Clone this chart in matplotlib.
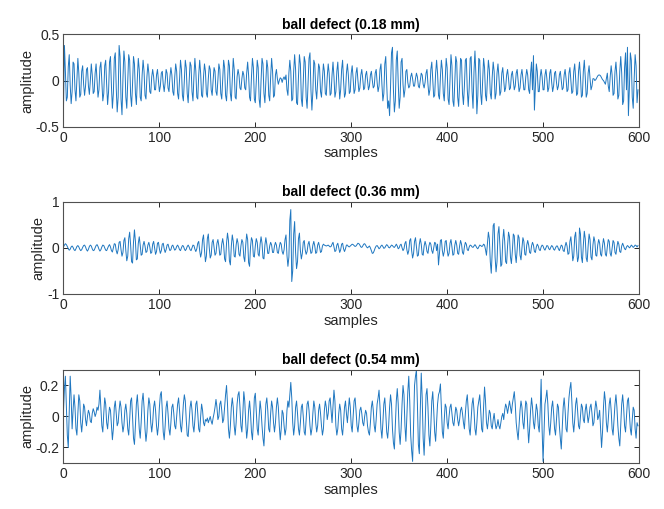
import numpy as np
import matplotlib
matplotlib.use("Agg")
import matplotlib.pyplot as plt

plt.rcParams['font.family'] = ['Liberation Sans', 'DejaVu Sans']
plt.rcParams['axes.unicode_minus'] = False

# signal values (x100)
s1 = [
    -30, 38, 10, -22, -18, 15, 28, -5, -25, -12, 20, 18, -10, -22, 2, 24, 8, -18, -15, 10,
    16, -4, -16, -6, 12, 14, -6, -15, 0, 18, 6, -14, -12, 8, 18, 0, -18, -10, 14, 20,
    -2, -22, -14, 16, 22, -4, -26, -12, 20, 26, -6, -30, -14, 24, 30, -8, -34, -18, 38, 26,
    -20, -37, 2, 32, 20, -18, -30, 0, 28, 22, -16, -28, -4, 26, 18, -14, -26, 2, 24, 12,
    -18, -22, 6, 22, 10, -16, -20, 4, 18, 8, -12, -14, 4, 12, 4, -10, -10, 6, 12, 0,
    -12, -6, 8, 10, -4, -12, -2, 12, 8, -8, -12, 4, 14, 6, -12, -16, 4, 18, 10, -14,
    -20, 2, 22, 12, -16, -22, 0, 22, 14, -14, -24, -2, 20, 16, -12, -22, 4, 24, 10, -18,
    -20, 6, 22, 8, -16, -18, 4, 18, 10, -14, -18, 2, 16, 12, -10, -16, 0, 14, 10, -12,
    -16, 2, 18, 12, -14, -20, 0, 22, 14, -16, -22, -2, 22, 16, -14, -22, 2, 24, 12, -18,
    -20, 4, 12, 6, -8, -10, 2, 10, 6, -8, -10, 8, 20, 6, -18, -22, 4, 24, 14, -20,
    -24, -2, 22, 14, -20, -29, 0, 24, 18, -14, -24, 0, 22, 14, -16, -22, 4, 24, 10, -18,
    -16, 6, 12, 2, -4, 0, 3, 2, -2, 2, 4, 1, 6, -10, -16, 8, 22, 10, -22, -20,
    10, 28, 12, -24, -26, 4, 28, 18, -20, -28, 0, 26, 20, -18, -30, -4, 24, 30, -10, -32,
    -12, 22, 18, -10, -20, 0, 18, 14, -12, -18, 2, 18, 10, -14, -16, 4, 18, 8, -16, -14,
    6, 20, 4, -18, -12, 10, 20, 0, -20, -10, 12, 22, 0, -18, -14, 8, 18, 6, -14, -12,
    8, 16, 2, -14, -10, 8, 14, 0, -12, -8, 6, 12, 2, -10, -8, 6, 10, 0, -10, -6,
    6, 10, 0, -8, -6, 8, 12, -2, -12, -6, 12, 18, -4, -22, -14, 18, 26, -4, -30, -22,
    -38, -6, 30, 36, -10, -34, -22, 22, 32, -2, -30, -18, 20, 24, -4, -18, -10, 10, 12, -2,
    -8, -6, 4, 8, 2, -6, -6, 2, 8, 4, -6, -8, 0, 8, 6, -4, -8, -2, 8, 12,
    -4, -16, -10, 12, 20, 2, -18, -16, 8, 22, 8, -16, -20, 4, 22, 12, -14, -22, 0, 24,
    14, -20, -26, 2, 28, 16, -22, -28, 0, 26, 20, -18, -28, -4, 24, 22, -14, -26, -6, 22,
    24, -10, -28, -8, 24, 26, -12, -30, 10, 32, 6, -36, -16, 24, 22, -14, -26, 0, 24, 14,
    -16, -22, 2, 22, 12, -14, -20, 4, 20, 10, -20, -14, 8, 18, 4, -16, -12, 8, 14, 0,
    -12, -8, 6, 12, 2, -10, -8, 6, 10, 0, -10, -6, 8, 12, 0, -12, -8, 6, 12, 2,
    -10, -10, 4, 12, 6, -10, -14, 8, 20, -10, 27, -32, -6, 18, 10, -12, -12, 4, 12, 4,
    -10, -10, 6, 12, 2, -12, -8, 8, 12, -2, -12, -6, 8, 10, -2, -10, -6, 6, 10, 0,
    -10, -8, 6, 12, 2, -12, -10, 8, 14, 0, -14, -12, 10, 18, 2, -16, -14, 10, 20, 4,
    -18, -16, 10, 22, 4, -18, -14, 8, 16, 2, -10, -6, 2, 2, 0, 1, 3, 5, 6, 6,
    5, 3, 1, 0, -2, -4, 2, 8, -6, -12, 4, 16, 6, -16, -14, 10, 20, 4, -20, -16,
    10, 26, 8, -26, -22, 14, 30, -10, 36, -38, -8, 30, 22, -18, -30, 2, 28, 16, -24, -10,
]

s2 = [
    2, 6, 9, 7, 3, -2, -5, -3, 2, 4, 1, -4, -6, -2, 3, 5, 2, -3, -6, -4,
    1, 5, 6, 2, -4, -7, -3, 3, 6, 4, -2, -6, -5, 0, 5, 7, 3, -3, -7, -4,
    2, 6, 5, 0, -5, -6, -1, 4, 7, 2, -6, -9, 0, 9, 8, -6, -13, -4, 12, 14,
    -4, -18, -10, 16, 22, -6, -28, -18, 20, 34, 6, -30, -33, 12, 39, 14, -26, -24, 10, 24,
    6, -16, -14, 6, 14, 4, -10, -8, 6, 12, 2, -12, -10, 8, 14, 0, -14, -8, 10, 12,
    -2, -12, -6, 8, 10, -2, -10, -4, 6, 8, 0, -6, -4, 4, 6, 0, -5, -3, 3, 6,
    2, -4, -6, 0, 5, 4, -2, -6, -3, 3, 6, 2, -4, -6, 0, 6, 5, -3, -8, -2,
    10, 14, -6, -20, -10, 18, 28, -4, -30, -18, 20, 30, 0, -22, -16, 12, 18, 0, -16, -12,
    10, 18, 4, -16, -14, 8, 20, 6, -24, -30, 10, 32, 16, -28, -37, 4, 28, 14, -18, -20,
    6, 20, 10, -14, -18, 4, 18, 12, -20, -30, 6, 30, 18, -32, -40, 2, 22, 16, -18, -20,
    4, 20, 12, -14, -18, 8, 24, 10, -22, -24, 6, 22, 8, -12, -12, 4, 12, 6, -10, -10,
    4, 12, 6, -10, -12, 2, 12, 8, -8, -14, -4, 18, 28, -16, -40, -20, 60, 83, -73, -50,
    30, 57, -10, -45, -30, 20, 32, -6, -24, -12, 12, 16, -4, -14, -8, 8, 14, 0, -12, -10,
    6, 14, 4, -12, -10, 6, 12, 2, -10, -8, 4, 8, 6, 5, 4, 5, 6, 4, 2, 3,
    8, 12, 2, -8, -6, 6, 10, 0, -10, -4, 8, 10, -2, -8, -2, 6, 6, 3, 2, 4,
    6, 8, 7, 5, 3, 4, 7, 10, 9, 6, 2, 1, 4, 8, 9, 6, 2, 0, 2, 4,
    0, -6, -12, -11, -6, 0, 4, 5, 2, -2, 0, 4, 6, 3, -1, 0, 4, 7, 5, 1,
    0, 3, 6, 5, 2, 1, 4, 8, 4, -2, 0, 6, 8, 0, -6, -2, 10, 14, -4, -14,
    -6, 16, 20, -6, -22, -12, 14, 22, 2, -18, -16, 8, 20, 8, -14, -16, 4, 14, 6, -8,
    -12, 4, 12, 8, -6, -12, 0, 12, 10, -6, 8, -37, -12, 16, 18, -6, -18, -8, 14, 16,
    -4, -18, -12, 10, 18, 2, -16, -14, 6, 16, 6, -12, -14, 4, 16, 8, -10, -14, 2, 12,
    8, -4, -6, 2, 6, 5, 2, 1, 4, 7, 4, 0, -2, 2, 6, 5, 3, 4, 8, 6,
    -4, -16, 10, 34, 20, -30, -55, -8, 48, 53, -20, -52, -30, 30, 46, 6, -40, -36, 16, 40,
    14, -30, -34, 4, 34, 24, -20, -34, -6, 30, 26, -14, -32, -4, 28, 22, -16, -26, 0, 22,
    14, -14, -16, 6, 16, 6, -10, -12, 4, 12, 6, -8, -10, 2, 8, 4, -4, -6, 2, 6,
    4, -2, -5, 0, 5, 4, -2, -4, 1, 5, 3, -3, -5, 0, 4, 4, -2, -6, 0, 6,
    4, -6, -8, 4, 12, 4, -14, -12, 14, 24, 0, -28, -18, 24, 34, -4, -30, -20, 43, 30,
    -20, -32, 6, 36, 20, -22, -30, 4, 30, 18, -20, -26, 6, 24, 14, -16, -18, 6, 18, 10,
    -14, -18, 4, 20, 10, -14, -18, 2, 18, 14, -12, -18, 0, 16, 12, -10, -14, 2, 14, 8,
    -8, -10, 4, 10, 4, -2, -4, 2, 5, 3, 0, 2, 6, 4, 1, 3, 6, 5, 2, 5,
]

s3 = [
    4, 18, 26, 6, -12, -20, 4, 26, 12, -8, 4, 14, 6, -8, -12, 2, 14, 10, -4, -10,
    -2, 8, 6, -2, -6, 0, 4, 2, -3, -4, 2, 5, 3, 0, 2, 6, 4, 8, 17, 6,
    -6, -10, 2, 12, 8, -4, -8, 0, 6, 4, -6, -15, -8, 6, 10, 2, -6, -4, 4, 10,
    6, -4, -10, -6, 4, 8, 2, -8, -12, -2, 10, 12, 0, -14, -18, -6, 8, 14, 4, -8,
    -14, -4, 10, 15, 6, -8, -16, -10, 4, 12, 8, -4, -10, -4, 6, 10, 4, -6, -12, -6,
    6, 14, 16, 4, -10, -15, -6, 6, 10, 2, -8, -12, -4, 6, 8, 2, -6, -8, 0, 8,
    12, 4, -6, -10, -2, 8, 14, 10, -2, -12, -13, -4, 6, 10, 4, -6, -10, -2, 8, 10,
    2, -8, -10, 0, 8, 4, -4, -6, -2, -3, -1, -4, -2, 0, -3, -5, -1, 2, 6, 11,
    6, -2, 0, 8, 10, 4, -4, -2, 6, 14, 20, 8, -8, -14, -6, 6, 12, 6, -6, -12,
    -4, 8, 14, 16, 6, -6, -10, 2, 16, 10, -4, -14, -8, 4, 10, 2, -10, -15, -4, 12,
    15, 4, -8, -12, 0, 10, 4, -6, -14, -19, -6, 8, 12, 4, -8, -10, 2, 10, 6, -4,
    -10, -4, 6, 12, 6, -6, -15, -8, 4, 2, -6, -12, -8, 4, 10, 6, 14, 22, 12, -4,
    -12, -6, 6, 10, 2, -8, -12, -4, 6, 8, 0, -10, -12, -2, 8, 10, 4, -6, -12, -8,
    2, 10, 6, -4, -10, -6, 4, 8, 2, -6, -12, -8, 4, 10, 6, -2, 2, 10, 12, 4,
    -4, 6, 17, 10, -6, -12, -8, 2, 8, 4, -8, -12, -4, 6, 10, 2, -4, 4, 12, 6,
    -6, -10, 0, 10, 12, 4, -6, -10, -4, 4, 6, 2, -4, -6, 0, 4, 2, -6, -10, -12,
    -4, 6, 10, 4, -6, -10, -2, 8, 12, 17, 6, -8, -14, -4, 8, 12, 2, -10, -14, -6,
    6, 14, 8, -8, -17, -21, -6, 10, 18, 8, -10, -18, -8, 8, 20, 14, -6, -16, 0, 16,
    26, 10, -12, -22, -29, -6, 20, 26, 30, 8, -18, -24, 4, 28, 12, -14, -25, -8, 14, 18,
    6, -12, -19, -6, 10, 16, 4, -10, -16, -4, 8, 14, 16, 21, 6, -10, -14, -2, 8, 6,
    -4, -8, 0, 6, 8, 2, -4, -6, 0, 6, 4, -2, -6, -2, 4, 6, 2, -4, -8, 2,
    10, 14, 4, -8, -12, -2, 8, 12, 4, -8, -12, -4, 6, 10, 14, 4, -8, -10, 6, 19,
    10, -4, -8, -2, 4, 2, -6, -8, -2, 2, -4, -8, -6, -2, -6, -8, -4, 0, 2, -2,
    4, 8, 6, 2, 6, 10, 6, 2, 8, 12, 16, 8, -4, -10, -15, -6, 4, 10, 6, -4,
    -8, 2, 10, 8, -6, -17, -8, 4, 12, 6, -4, -8, 0, 8, 4, -6, -10, 4, 24, -8,
    -29, -10, 8, 12, 17, 8, -6, -12, -4, 6, 10, 2, -8, -12, -2, 8, 6, -6, -14, -21,
    -8, 6, 12, 4, -8, -10, 2, 12, 18, 22, 10, -4, -10, -2, 8, 12, 4, -6, -8, 0,
    8, 6, -2, -4, 4, 8, 2, -4, 0, 6, 8, 2, -6, -4, 4, 10, 6, -2, 0, 4,
    -8, -20, -10, 6, 16, 10, -4, -10, -2, 8, 12, 4, -8, -12, -2, 8, 14, 6, -6, -14,
    -19, -6, 8, 14, 6, -6, -10, 0, 10, 12, 2, -8, -12, -2, 6, 4, -8, -14, -4, -6,
]

titles = ["ball defect (0.18 mm)", "ball defect (0.36 mm)", "ball defect (0.54 mm)"]
series = [s1, s2, s3]
ylims = [(-0.5, 0.5), (-1, 1), (-0.3, 0.3)]
yticks = [[-0.5, 0, 0.5], [-1, 0, 1], [-0.2, 0, 0.2]]
ytick_labels = [["-0.5", "0", "0.5"], ["-1", "0", "1"], ["-0.2", "0", "0.2"]]
xticks = [0, 100, 200, 300, 400, 500, 600]

fig = plt.figure(figsize=(6.64, 5.09), dpi=100)

# axes positions (left, bottom, width, height) in figure fractions
positions = [
    [0.0956, 0.751, 0.8667, 0.1815],
    [0.0956, 0.4224, 0.8667, 0.1813],
    [0.0956, 0.0904, 0.8667, 0.1827],
]

for i in range(3):
    ax = fig.add_axes(positions[i])
    y = np.array(series[i]) / 100.0
    x = np.arange(len(y))
    ax.plot(x, y, color='#1f77c0', lw=0.7)
    ax.set_xlim(0, 600)
    ax.set_ylim(*ylims[i])
    ax.set_xticks(xticks)
    ax.set_xticklabels([str(t) for t in xticks])
    ax.set_yticks(yticks[i])
    ax.set_yticklabels(ytick_labels[i])
    ax.tick_params(direction='in', length=3.5, width=0.7, top=True, right=True,
                   labelsize=10, colors='#262626', pad=3)
    for sp in ax.spines.values():
        sp.set_color('#505050')
        sp.set_linewidth(0.8)
    ax.set_title(titles[i], fontsize=10, fontweight='bold', pad=4, color='black')
    ax.set_xlabel("samples", fontsize=10.5, labelpad=1, color='#262626')
    ax.set_ylabel("amplitude", fontsize=10.5, labelpad=1, color='#262626')

fig.savefig("out.png", dpi=100)
